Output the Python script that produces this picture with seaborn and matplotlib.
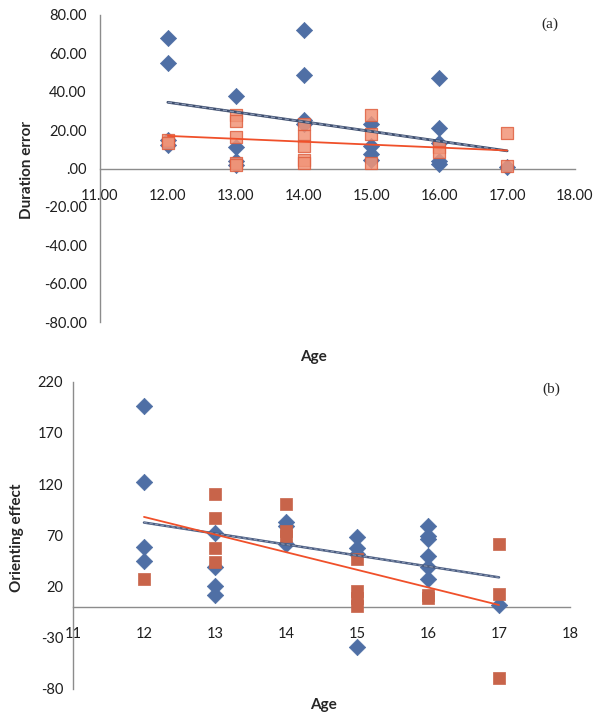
import numpy as np
import pandas as pd
import matplotlib
matplotlib.use("Agg")
import matplotlib.pyplot as plt
import seaborn as sns

sns.set_style("white")
plt.rcParams['font.family'] = ['Lato', 'DejaVu Sans']

# ---------------- Panel (a): Duration error ----------------
a_blue_age = [12, 12, 12, 12, 13, 13, 13, 13, 14, 14, 14, 14, 15, 15, 15, 15, 16, 16, 16, 16, 16, 17]
a_blue_val = [68, 55, 15, 12, 38, 11, 4, 2, 72, 48.5, 25.5, 23, 23, 11.5, 7.5, 4.5, 47, 21, 13.5, 4, 2.5, 1]
a_red_age = [12, 12, 13, 13, 13, 13, 13, 14, 14, 14, 14, 14, 15, 15, 15, 16, 16, 17, 17]
a_red_val = [15, 13.5, 28, 25, 16.5, 3, 2, 23, 17, 11.5, 4.2, 3, 28, 18, 3, 11, 8.5, 18.3, 1.2]
a_trend_age = [12, 17]
a_blue_trend = [34.5, 9.2]
a_red_trend = [17.0, 9.4]

# ---------------- Panel (b): Orienting effect ----------------
b_blue_age = [12, 12, 12, 12, 13, 13, 13, 13, 14, 14, 14, 15, 15, 15, 15, 16, 16, 16, 16, 16, 16, 17]
b_blue_val = [196, 122, 59, 45, 72, 39, 21, 12, 83, 79, 62, 68, 58, 52, -39, 79, 69, 66, 50, 39, 27, 2]
b_red_age = [12, 13, 13, 13, 13, 14, 14, 14, 15, 15, 15, 15, 16, 16, 17, 17, 17]
b_red_val = [27, 110, 87, 58, 44, 101, 74, 69, 47, 16, 9, 1, 12, 9, 62, 13, -69]
b_trend_age = [12, 17]
b_blue_trend = [82.5, 29.0]
b_red_trend = [88.0, 2.0]

a_xticks = [11, 12, 13, 14, 15, 16, 17, 18]
a_yticks = [-80, -60, -40, -20, 0, 20, 40, 60, 80]
b_xticks = [11, 12, 13, 14, 15, 16, 17, 18]
b_yticks = [-80, -30, 20, 70, 120, 170, 220]

BLUE = '#4F6FA5'
AXC = '#8C8C8C'
W, H = 604, 722

fig = plt.figure(figsize=(W / 100, H / 100), dpi=100)
axa = fig.add_axes([100 / W, 1 - 322 / H, 475 / W, 307 / H])
axb = fig.add_axes([73 / W, 1 - 689 / H, 497 / W, 307.3 / H])


def style_axis(ax, xticks, yticks, xfmt, yfmt, xlim, ylim, ypad):
    ax.set_xlim(*xlim)
    ax.set_ylim(*ylim)
    ax.set_xticks(xticks)
    ax.set_yticks(yticks)
    ax.set_xticklabels([xfmt(v) for v in xticks])
    ax.set_yticklabels([yfmt(v) for v in yticks])
    for s in ['top', 'right']:
        ax.spines[s].set_visible(False)
    ax.spines['bottom'].set_position(('data', 0))
    for s in ['left', 'bottom']:
        ax.spines[s].set_color(AXC)
        ax.spines[s].set_linewidth(1.0)
    ax.tick_params(axis='both', direction='out', length=3.5, width=1.0, color=AXC,
                   labelsize=10.5, labelcolor='#1E1E1E')
    ax.tick_params(axis='x', pad=11)
    ax.tick_params(axis='y', pad=ypad)
    ax.grid(False)
    ax.set_facecolor('none')
    ax.set_xlabel('')
    ax.set_ylabel('')


def fmt2(v):
    s = f"{v:.2f}"
    if s.startswith('0.'):
        s = s[1:]
    elif s.startswith('-0.'):
        s = '-' + s[2:]
    return s


# Panel (a)
da_b = pd.DataFrame({'Age': a_blue_age, 'val': a_blue_val})
da_r = pd.DataFrame({'Age': a_red_age, 'val': a_red_val})
sns.scatterplot(data=da_b, x='Age', y='val', marker='D', s=68, color=BLUE,
                edgecolor=BLUE, linewidth=0.5, ax=axa, zorder=3)
sns.scatterplot(data=da_r, x='Age', y='val', marker='s', s=78, color='#F19478',
                edgecolor='#E06040', linewidth=0.9, alpha=0.85, ax=axa, zorder=4)
ta = pd.DataFrame({'Age': a_trend_age, 'blue': a_blue_trend, 'red': a_red_trend})
sns.lineplot(data=ta, x='Age', y='blue', color='#3E4E6E', linewidth=2.0, ax=axa, zorder=5)
sns.lineplot(data=ta, x='Age', y='blue', color='#8A98B4', linewidth=1.0,
             linestyle=(0, (3, 2)), ax=axa, zorder=6)
sns.lineplot(data=ta, x='Age', y='red', color='#F0502A', linewidth=1.3, ax=axa, zorder=6)
style_axis(axa, a_xticks, a_yticks, fmt2, fmt2, (11, 18), (-80, 80), 6)

# Panel (b)
db_b = pd.DataFrame({'Age': b_blue_age, 'val': b_blue_val})
db_r = pd.DataFrame({'Age': b_red_age, 'val': b_red_val})
sns.scatterplot(data=db_b, x='Age', y='val', marker='D', s=70, color=BLUE,
                edgecolor=BLUE, linewidth=0.5, ax=axb, zorder=3)
sns.scatterplot(data=db_r, x='Age', y='val', marker='s', s=82, color='#C8644A',
                edgecolor='#C8644A', linewidth=0.5, ax=axb, zorder=4)
tb = pd.DataFrame({'Age': b_trend_age, 'blue': b_blue_trend, 'red': b_red_trend})
sns.lineplot(data=tb, x='Age', y='blue', color='#4A5C80', linewidth=1.8, ax=axb, zorder=5)
sns.lineplot(data=tb, x='Age', y='blue', color='#8A98B4', linewidth=0.8,
             linestyle=(0, (3, 2)), ax=axb, zorder=6)
sns.lineplot(data=tb, x='Age', y='red', color='#F0502A', linewidth=1.3, ax=axb, zorder=6)
style_axis(axb, b_xticks, b_yticks, lambda v: f"{v:d}", lambda v: f"{v:d}",
           (11, 18), (-80, 220), 3.5)


def ftext(x, y, s, **kw):
    fig.text(x / W, 1 - y / H, s, ha='center', va='center', **kw)


ftext(27, 170, 'Duration error', rotation=90, fontsize=11, fontweight='bold')
ftext(313, 357, 'Age', fontsize=11, fontweight='bold')
ftext(550, 24, '(a)', fontsize=11, family='Liberation Serif')

ftext(17.5, 538, 'Orienting effect', rotation=90, fontsize=11, fontweight='bold')
ftext(323, 705, 'Age', fontsize=11, fontweight='bold')
ftext(551, 389, '(b)', fontsize=11, family='Liberation Serif')

fig.savefig('out.png', dpi=100)
